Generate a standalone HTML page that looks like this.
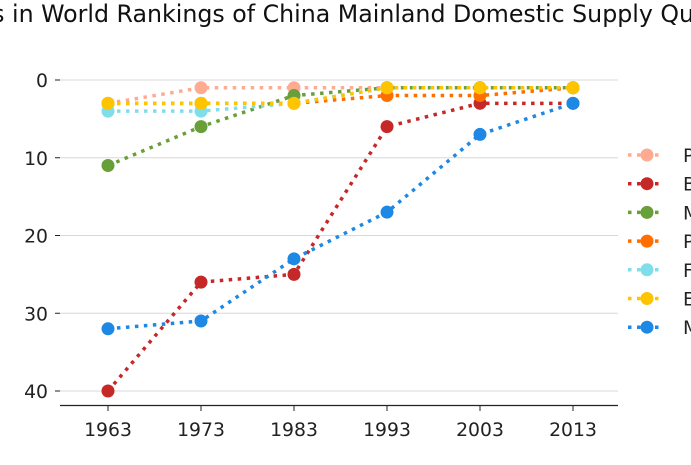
<!DOCTYPE html>
<html><head><meta charset="utf-8"><style>
body{margin:0;background:#fff;overflow:hidden}
svg{font-family:"DejaVu Sans","Liberation Sans",sans-serif}
</style></head><body>
<svg id="c" width="691" height="460">
<text id="title" x="-80" y="22" font-size="23.7" fill="#111">Changes in World Rankings of China Mainland Domestic Supply Quantity</text>
<g id="grid"></g><g id="series"></g><g id="legend"></g>
</svg>
<script>
const years=[1963,1973,1983,1993,2003,2013];
const yTicks=[0,10,20,30,40];
const names=["Pork","Beef","Mutton","Poultry","Fish","Eggs","Milk"];
const colors=["#ffab91","#c62828","#689f38","#ff6f00","#80deea","#ffc400","#1e88e5"];
const s0=[3,1,1,1,1,1];
const s1=[40,26,25,6,3,3];
const s2=[11,6,2,1,1,1];
const s3=[3,3,3,2,2,1];
const s4=[4,4,3,1,1,1];
const s5=[3,3,3,1,1,1];
const s6=[32,31,23,17,7,3];
const series=[s0,s1,s2,s3,s4,s5,s6];
const NS="http://www.w3.org/2000/svg";
const X=v=>108+(v-1963)*9.3;
const Y=v=>80+v*7.775;
function mk(t,a,p){const e=document.createElementNS(NS,t);for(const k in a)e.setAttribute(k,a[k]);p.appendChild(e);return e;}
const svg=document.getElementById('c');
const tmp=mk('text',{'font-size':23.7,x:0,y:-50},svg);
tmp.textContent='Changes in';
const full=tmp.getComputedTextLength();
tmp.textContent='in';
const inw=tmp.getComputedTextLength();
svg.removeChild(tmp);
document.getElementById('title').setAttribute('x',12-(full-inw));
const g=document.getElementById('grid');
yTicks.forEach(t=>{
 const l=mk('line',{x1:60,x2:618,y1:Y(t),y2:Y(t),stroke:'#d8d8d8','stroke-width':1},g);
 
 
 const k=mk('line',{x1:55,x2:60,y1:Y(t),y2:Y(t),stroke:'#222','stroke-width':1},g);
 
 
 const tx=mk('text',{x:48,y:Y(t)+7,'text-anchor':'end','font-size':18.8,fill:'#222'},g);
 tx.textContent=t;
 
 
});
const ax=mk('line',{x1:60,x2:618,y1:405.5,y2:405.5,stroke:'#222','stroke-width':1.3},g);


years.forEach(yr=>{
 const k=mk('line',{x1:X(yr),x2:X(yr),y1:405,y2:411,stroke:'#222'},g);
 
 
 const tx=mk('text',{x:X(yr),y:436,'text-anchor':'middle','font-size':18.8,fill:'#222'},g);
 tx.textContent=yr;
 
 
});
const sg=document.getElementById('series');
series.forEach((s,i)=>{
 const gg=mk('g',{},sg);
 
 
 mk('polyline',{points:s.map((v,j)=>X(years[j])+','+Y(v)).join(' '),fill:'none',stroke:colors[i],'stroke-width':3.5,'stroke-dasharray':'3.5 5.5'},gg);
 s.forEach((v,j)=>{
  const c=mk('circle',{cx:X(years[j]),cy:Y(v),r:6.5,fill:colors[i]},gg);
  
  
 });
});
const lg=document.getElementById('legend');
names.forEach((n,i)=>{
 const y=155+i*28.7;
 const e=mk('g',{},lg);
 
 
 mk('line',{x1:628,x2:662,y1:y,y2:y,stroke:colors[i],'stroke-width':3.5,'stroke-dasharray':'3.5 5.5'},e);
 mk('circle',{cx:647,cy:y,r:6.5,fill:colors[i]},e);
 const t=mk('text',{x:683,y:y+7,'font-size':18.8,fill:'#222'},e);
 t.textContent=n;
});
</script>
</body></html>
